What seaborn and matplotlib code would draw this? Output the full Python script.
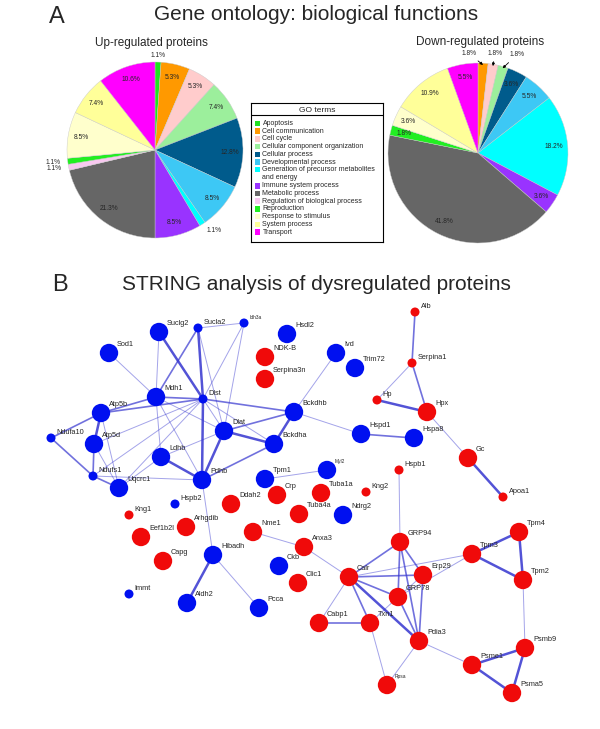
import numpy as np
import pandas as pd
import seaborn as sns
import matplotlib.pyplot as plt
from matplotlib.patches import Rectangle

# ---------------- data: panel A (GO pies) ----------------
go_terms = ['Apoptosis', 'Cell communication', 'Cell cycle',
            'Cellular component organization', 'Cellular process',
            'Developmental process',
            'Generation of precursor metabolites\nand energy',
            'Immune system process', 'Metabolic process',
            'Regulation of biological process', 'Reproduction',
            'Response to stimulus', 'System process', 'Transport']
go_colors = ['#22e022', '#ff9900', '#ffcccc', '#9cef9c', '#005b8c', '#3dc8f5',
             '#00ffff', '#9933ff', '#666666', '#f8c8f0', '#22ee22', '#ffffcc',
             '#ffff99', '#ff00ff']
up_pct = [1.1, 5.3, 5.3, 7.4, 12.8, 8.5, 1.1, 8.5, 21.3, 1.1, 1.1, 8.5, 7.4, 10.6]
down_pct = [0, 1.8, 1.8, 1.8, 3.6, 5.5, 18.2, 3.6, 41.8, 0, 1.8, 3.6, 10.9, 5.5]

# ---------------- data: panel B (STRING network) ----------------
node_names = ['Suclg2', 'Sod1', 'Mdh1', 'Atp5b', 'Atp5d', 'Dlat', 'Ldhb', 'Uqcrc1',
              'Pdhb', 'Hsdl2', 'Bckdhb', 'Bckdha', 'Ivd', 'Trim72', 'Hspd1', 'Hspa8',
              'Tpm1', 'Myl2', 'Ndrg2', 'Hibadh', 'Ckb', 'Aldh2', 'Pcca',
              'Sucla2', 'Idh3a', 'Dlst', 'Ndufa10', 'Ndufs1', 'Hspb2', 'Immt',
              'NDK-B', 'Serpina3n', 'Hpx', 'Gc', 'Crp', 'Tuba1a', 'Ddah2', 'Tuba4a',
              'Arhgdib', 'Eef1b2l', 'Nme1', 'Anxa3', 'Capg', 'Clic1', 'Calr', 'Cabp1',
              'GRP94', 'Tpm4', 'Tpm3', 'Erp29', 'Tpm2', 'GRP78', 'Txn1', 'Pdia3',
              'Psmb9', 'Psme1', 'Rpsa', 'Psma5',
              'Alb', 'Serpina1', 'Hp', 'Kng1', 'Kng2', 'Hspb1', 'Apoa1']
node_x = [159, 109, 156, 101, 94, 224, 161, 119, 202, 287, 294, 274, 336, 355, 361, 414,
          265, 327, 343, 213, 279, 187, 259,
          198, 244, 203, 51, 93, 175, 129,
          265, 265, 427, 468, 277, 321, 231, 299, 186, 141, 253, 304, 163, 298, 349, 319,
          400, 519, 472, 423, 523, 398, 370, 419, 525, 472, 387, 512,
          415, 412, 377, 129, 366, 399, 503]
node_y = [332, 353, 397, 413, 444, 431, 457, 488, 480, 334, 412, 444, 353, 368, 434, 438,
          479, 470, 515, 555, 566, 603, 608,
          328, 323, 399, 438, 476, 504, 594,
          357, 379, 412, 458, 495, 493, 504, 514, 527, 537, 532, 547, 561, 583, 577, 623,
          542, 532, 554, 575, 580, 597, 623, 641, 648, 665, 685, 693,
          312, 363, 400, 515, 492, 470, 497]
node_group = ['down'] * 30 + ['up'] * 35
node_size = (['large'] * 23 + ['small'] * 7 + ['large'] * 28 + ['small'] * 7)
tiny_labels = ['Idh3a', 'Myl2', 'Rpsa']

edges = [('Suclg2', 'Mdh1', 1), ('Suclg2', 'Dlst', 3), ('Sucla2', 'Idh3a', 1),
         ('Sucla2', 'Mdh1', 2), ('Sucla2', 'Dlst', 3), ('Sucla2', 'Dlat', 1),
         ('Idh3a', 'Dlst', 1), ('Idh3a', 'Dlat', 1), ('Sod1', 'Mdh1', 1),
         ('Mdh1', 'Atp5b', 2), ('Mdh1', 'Dlst', 2), ('Mdh1', 'Ldhb', 1),
         ('Mdh1', 'Dlat', 1), ('Mdh1', 'Pdhb', 1), ('Dlst', 'Atp5b', 2),
         ('Dlst', 'Atp5d', 1), ('Dlst', 'Ndufs1', 1), ('Dlst', 'Uqcrc1', 1),
         ('Dlst', 'Dlat', 1), ('Dlst', 'Pdhb', 3), ('Dlst', 'Bckdhb', 2),
         ('Dlst', 'Bckdha', 1), ('Atp5b', 'Atp5d', 3), ('Atp5b', 'Ndufa10', 2),
         ('Atp5b', 'Uqcrc1', 1), ('Ndufa10', 'Ndufs1', 2), ('Atp5d', 'Ndufs1', 2),
         ('Atp5d', 'Uqcrc1', 1), ('Ndufs1', 'Uqcrc1', 2), ('Ndufs1', 'Pdhb', 1),
         ('Uqcrc1', 'Ldhb', 1), ('Ldhb', 'Pdhb', 3), ('Ldhb', 'Dlat', 1),
         ('Dlat', 'Pdhb', 3), ('Dlat', 'Bckdha', 3), ('Dlat', 'Bckdhb', 2),
         ('Pdhb', 'Bckdha', 2), ('Bckdhb', 'Bckdha', 3), ('Bckdhb', 'Ivd', 1),
         ('Bckdhb', 'Hspd1', 1), ('Hspd1', 'Hspa8', 2), ('Pdhb', 'Hibadh', 1),
         ('Hibadh', 'Aldh2', 3), ('Hibadh', 'Pcca', 1), ('Tpm1', 'Myl2', 1),
         ('Nme1', 'Anxa3', 1), ('Anxa3', 'Calr', 1), ('Alb', 'Serpina1', 2),
         ('Serpina1', 'Hp', 1), ('Serpina1', 'Hpx', 2), ('Hp', 'Hpx', 3),
         ('Hpx', 'Gc', 1), ('Gc', 'Apoa1', 3), ('Hspb1', 'GRP94', 1),
         ('GRP94', 'Calr', 2), ('GRP94', 'Erp29', 2), ('GRP94', 'GRP78', 2),
         ('GRP94', 'Pdia3', 2), ('Calr', 'Tpm3', 1), ('GRP78', 'Tpm3', 1),
         ('Calr', 'Erp29', 2), ('Calr', 'GRP78', 2), ('Calr', 'Pdia3', 3),
         ('Calr', 'Txn1', 2), ('Calr', 'Cabp1', 1), ('Erp29', 'Pdia3', 2),
         ('Erp29', 'GRP78', 1), ('GRP78', 'Pdia3', 2), ('GRP78', 'Txn1', 1),
         ('Cabp1', 'Txn1', 2), ('Txn1', 'Rpsa', 1), ('Pdia3', 'Rpsa', 1),
         ('Pdia3', 'Psme1', 1), ('Psme1', 'Psmb9', 3), ('Psme1', 'Psma5', 3),
         ('Psmb9', 'Psma5', 3), ('Psmb9', 'Tpm2', 1), ('Tpm3', 'Tpm4', 3),
         ('Tpm3', 'Tpm2', 3), ('Tpm4', 'Tpm2', 3)]

sns.set_theme(style='white')
plt.rcParams['font.family'] = ['Liberation Sans', 'DejaVu Sans']

W, H = 600, 729
fig = plt.figure(figsize=(W / 100, H / 100), dpi=100)


def px_axes(left, top, w, h):
    return fig.add_axes([left / W, 1 - (top + h) / H, w / W, h / H])


def draw_pie(ax, pct, outside, arrows):
    keep = [i for i, v in enumerate(pct) if v > 0]
    vals = [pct[i] for i in keep]
    wedges, _ = ax.pie(vals, colors=[go_colors[i] for i in keep], startangle=90,
                       counterclock=False,
                       wedgeprops=dict(linewidth=0.3, edgecolor='#c8c8c8'))
    ax.set_xlim(-1, 1)
    ax.set_ylim(-1, 1)
    n_arrow = 0
    for w, i, v in zip(wedges, keep, vals):
        ang = np.deg2rad((w.theta1 + w.theta2) / 2)
        cx, cy = np.cos(ang), np.sin(ang)
        lab = f'{v:.1f}%'
        if i in outside:
            ha = 'center' if abs(cx) < 0.2 else ('left' if cx > 0 else 'right')
            ax.text(1.08 * cx, 1.08 * cy, lab, ha=ha, va='center', fontsize=4.8)
        elif i in arrows:
            dx, dy = [(-0.16, 0.11), (0.02, 0.12), (0.15, 0.13)][n_arrow]
            n_arrow += 1
            ax.annotate(lab, xy=(0.98 * cx, 0.98 * cy), xytext=(cx + dx, cy + dy),
                        ha='center', va='center', fontsize=4.8,
                        arrowprops=dict(arrowstyle='-|>', color='black', lw=0.6,
                                        mutation_scale=4, shrinkA=1, shrinkB=0))
        else:
            ax.text(0.85 * cx, 0.85 * cy, lab, ha='center', va='center', fontsize=4.8)


# ---------------- panel A ----------------
fig.text(57 / W, 1 - 17 / H, 'A', fontsize=17, ha='center', va='center')
fig.text(316 / W, 1 - 15 / H, 'Gene ontology: biological functions', fontsize=15,
         ha='center', va='center')
fig.text(151 / W, 1 - 43 / H, 'Up-regulated proteins', fontsize=8.5, ha='center', va='center')
fig.text(480 / W, 1 - 42 / H, 'Down-regulated proteins', fontsize=8.5, ha='center', va='center')

ax_up = px_axes(67, 62, 176, 176)
draw_pie(ax_up, up_pct, outside={0, 6, 9, 10}, arrows=set())
ax_down = px_axes(388, 63, 180, 180)
draw_pie(ax_down, down_pct, outside=set(), arrows={1, 2, 3})

# legend box
ax_leg = px_axes(251, 103, 132, 139)
ax_leg.set_xlim(0, 132)
ax_leg.set_ylim(139, 0)
ax_leg.set_xticks([])
ax_leg.set_yticks([])
for s in ax_leg.spines.values():
    s.set_color('black')
    s.set_linewidth(0.8)
ax_leg.text(66, 7, 'GO terms', ha='center', va='center', fontsize=6)
ax_leg.axhline(12, color='black', lw=0.8)
y = 20.5
for term, col in zip(go_terms, go_colors):
    nl = term.count('\n')
    ax_leg.add_patch(Rectangle((3.5, y - 2.8), 5.6, 5.6, color=col, lw=0))
    ax_leg.text(11.5, y + nl * 3.6, term, ha='left', va='center', fontsize=5,
                linespacing=1.15)
    y += 7.7 * (1 + nl * 1.1)

# ---------------- panel B ----------------
fig.text(60 / W, 1 - 285 / H, 'B', fontsize=17, ha='center', va='center')
fig.text(316 / W, 1 - 285 / H, 'STRING analysis of dysregulated proteins', fontsize=15,
         ha='center', va='center')

nodes = pd.DataFrame({'name': node_names, 'x': node_x, 'y': node_y,
                      'group': node_group, 'size': node_size})
pos = nodes.set_index('name')[['x', 'y']]

ax_net = px_axes(0, 295, 600, 434)
edge_style = {1: (0.7, 0.45), 2: (1.2, 0.7), 3: (1.8, 0.85)}
for a, b, wgt in edges:
    lw, al = edge_style[wgt]
    ax_net.plot([pos.loc[a, 'x'], pos.loc[b, 'x']], [pos.loc[a, 'y'], pos.loc[b, 'y']],
                color='#3535cf', lw=lw, alpha=al, zorder=1, solid_capstyle='round')

sns.scatterplot(data=nodes, x='x', y='y', hue='group', size='size',
                sizes={'large': 175, 'small': 42},
                palette={'down': '#0010f0', 'up': '#f00a0a'},
                linewidth=0, legend=False, ax=ax_net, zorder=3)
for _, r in nodes.iterrows():
    off = (5.8, 6.3) if r['size'] == 'large' else (4.0, 4.0)
    fs = 3.5 if r['name'] in tiny_labels else 5.3
    ax_net.annotate(r['name'], (r['x'], r['y']), xytext=off, textcoords='offset points',
                    ha='left', va='center', fontsize=fs, zorder=4)

ax_net.set_xlim(0, 600)
ax_net.set_ylim(729, 295)
ax_net.axis('off')

fig.savefig('out.png', dpi=100)
